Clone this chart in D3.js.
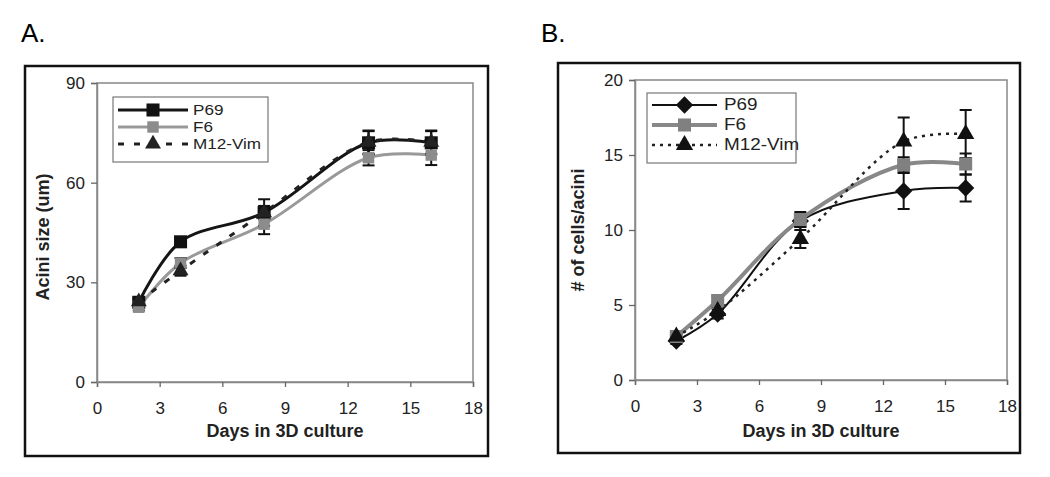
<!DOCTYPE html>
<html><head><meta charset="utf-8">
<script src="https://cdn.jsdelivr.net/npm/d3@7"></script>
<style>body{margin:0;background:#fff;} text{font-family:"Liberation Sans",Arial,sans-serif;}</style>
</head><body>
<svg id="c" width="1050" height="477"></svg>
<script>
const days = [2, 4, 8, 13, 16];
const xTicks = [0, 3, 6, 9, 12, 15, 18];
const seriesNames = ["P69", "F6", "M12-Vim"];

// Panel A: Acini size (um)
const aP69 = [24, 42.2, 51, 72, 72];
const aF6 = [22.5, 35.8, 47.5, 67.5, 68.3];
const aM12 = [24.2, 33.5, 51, 72.2, 72.2];
const aP69Err = [1, 1, 4, 3.5, 3.5];
const aF6Err = [1, 1.5, 3, 2.3, 3];
const aM12Err = [1, 1.5, 2, 3.5, 3.5];
const aYTicks = [0, 30, 60, 90];

// Panel B: # of cells/acini
const bP69 = [2.6, 4.4, 10.6, 12.6, 12.8];
const bF6 = [2.9, 5.3, 10.7, 14.35, 14.4];
const bM12 = [2.9, 4.6, 9.4, 15.9, 16.4];
const bP69Err = [0.2, 0.3, 0.4, 1.2, 0.9];
const bF6Err = [0.2, 0.3, 0.5, 0.5, 0.7];
const bM12Err = [0.2, 0.3, 0.6, 1.6, 1.6];
const bYTicks = [0, 5, 10, 15, 20];

const svg = d3.select("#c");

// square-ish diamond symbol
const diamondSq = {
  draw(ctx, size) {
    const r = Math.sqrt(size / 2);
    ctx.moveTo(0, -r); ctx.lineTo(r, 0); ctx.lineTo(0, r); ctx.lineTo(-r, 0); ctx.closePath();
  }
};

function drawPanel(cfg) {
  const g = svg.append("g");
  g.append("text").attr("x", cfg.titleX).attr("y", 42).attr("font-size", 26).text(cfg.title);
  g.append("rect").attr("x", cfg.frame[0]).attr("y", cfg.frame[1])
    .attr("width", cfg.frame[2] - cfg.frame[0]).attr("height", cfg.frame[3] - cfg.frame[1])
    .attr("fill", "none").attr("stroke", "#111").attr("stroke-width", 2.5);
  const x = d3.scaleLinear().domain([0, 18]).range([cfg.plot[0], cfg.plot[2]]);
  const y = d3.scaleLinear().domain([0, cfg.yMax]).range([cfg.plot[3], cfg.plot[1]]);
  g.append("rect").attr("x", cfg.plot[0]).attr("y", cfg.plot[1])
    .attr("width", cfg.plot[2] - cfg.plot[0]).attr("height", cfg.plot[3] - cfg.plot[1])
    .attr("fill", "none").attr("stroke", "#888").attr("stroke-width", 1.5);
  const xa = g.append("g").attr("transform", `translate(0,${cfg.plot[3]})`)
    .call(d3.axisBottom(x).tickValues(xTicks).tickSize(5).tickPadding(15));
  const ya = g.append("g").attr("transform", `translate(${cfg.plot[0]},0)`)
    .call(d3.axisLeft(y).tickValues(cfg.yTicks).tickSize(6).tickPadding(6));
  [xa, ya].forEach(a => {
    a.select(".domain").attr("stroke", "#888").attr("stroke-width", 1.5);
    a.selectAll(".tick line").attr("stroke", "#666").attr("stroke-width", 1.3);
    a.selectAll(".tick text").attr("font-size", 17).attr("fill", "#222")
      .attr("font-family", "Liberation Sans, Arial, sans-serif");
  });
  g.append("text").attr("x", (cfg.plot[0] + cfg.plot[2]) / 2).attr("y", 437)
    .attr("text-anchor", "middle").attr("font-size", 18).attr("font-weight", "bold").attr("fill", "#222")
    .text("Days in 3D culture");
  g.append("text").attr("transform", `translate(${cfg.yLabelX},${cfg.yLabelY}) rotate(-90)`)
    .attr("text-anchor", "middle").attr("font-size", 18).attr("font-weight", "bold").attr("fill", "#222")
    .text(cfg.yLabel);

  const line = d3.line().x((d, i) => x(days[i])).y(d => y(d)).curve(d3.curveCatmullRom.alpha(0.5));

  cfg.series.forEach(s => {
    g.append("path").datum(s.vals).attr("d", line).attr("fill", "none")
      .attr("stroke", s.color).attr("stroke-width", s.width).attr("stroke-dasharray", s.dash || null);
  });
  cfg.series.forEach(s => {
    s.vals.forEach((v, i) => {
      const e = s.err[i];
      if (e < 0.6 && cfg.yMax > 50) return;
      const cx = x(days[i]);
      g.append("line").attr("x1", cx).attr("x2", cx).attr("y1", y(v - e)).attr("y2", y(v + e))
        .attr("stroke", "#111").attr("stroke-width", 2);
      [v - e, v + e].forEach(t => g.append("line").attr("x1", cx - 6).attr("x2", cx + 6)
        .attr("y1", y(t)).attr("y2", y(t)).attr("stroke", "#111").attr("stroke-width", 2));
    });
  });
  cfg.series.forEach(s => {
    g.selectAll(null).data(s.vals).enter().append("path")
      .attr("transform", (d, i) => `translate(${x(days[i])},${y(d)})`)
      .attr("d", d3.symbol().type(s.symbol).size(s.size)).attr("fill", s.mColor);
  });

  const L = cfg.legend;
  g.append("rect").attr("x", L.x0).attr("y", L.y0).attr("width", L.x1 - L.x0).attr("height", L.y1 - L.y0)
    .attr("fill", "#fff").attr("stroke", "#777").attr("stroke-width", 1.2);
  cfg.series.forEach((s, k) => {
    const ly = L.rows[k];
    g.append("line").attr("x1", L.lx0).attr("x2", L.lx1).attr("y1", ly).attr("y2", ly)
      .attr("stroke", s.color).attr("stroke-width", s.width).attr("stroke-dasharray", s.dash || null);
    g.append("path").attr("transform", `translate(${(L.lx0 + L.lx1) / 2},${ly})`)
      .attr("d", d3.symbol().type(s.symbol).size(s.size)).attr("fill", s.mColor);
    g.append("text").attr("transform", `translate(${L.tx},${ly + 5}) scale(1.18,1)`)
      .attr("font-size", L.fs).attr("fill", "#222")
      .text(seriesNames[k]);
  });
}

drawPanel({
  title: "A.", titleX: 21, frame: [25, 66, 488, 456], plot: [97, 83, 473, 382],
  yMax: 90, yTicks: aYTicks, yLabel: "Acini size (um)", yLabelX: 49, yLabelY: 237,
  series: [
    {vals: aP69, err: aP69Err, color: "#151515", width: 3, symbol: d3.symbolSquare, size: 170, mColor: "#111"},
    {vals: aF6, err: aF6Err, color: "#999", width: 3, symbol: d3.symbolSquare, size: 130, mColor: "#8c8c8c"},
    {vals: aM12, err: aM12Err, color: "#222", width: 3, dash: "6,10", symbol: d3.symbolTriangle, size: 110, mColor: "#222"}
  ],
  legend: {x0: 113, y0: 97, x1: 268, y1: 162, rows: [110, 127, 144], lx0: 118, lx1: 188, tx: 193, fs: 14.5}
});

drawPanel({
  title: "B.", titleX: 541, frame: [558, 63, 1020, 453], plot: [635, 80, 1007, 380],
  yMax: 20, yTicks: bYTicks, yLabel: "# of cells/acini", yLabelX: 584, yLabelY: 230,
  series: [
    {vals: bP69, err: bP69Err, color: "#111", width: 2, symbol: diamondSq, size: 150, mColor: "#111"},
    {vals: bF6, err: bF6Err, color: "#888", width: 4, symbol: d3.symbolSquare, size: 170, mColor: "#808080"},
    {vals: bM12, err: bM12Err, color: "#222", width: 2.5, dash: "3,5", symbol: d3.symbolTriangle, size: 130, mColor: "#111"}
  ],
  legend: {x0: 647, y0: 93, x1: 796, y1: 163, rows: [105, 125, 145], lx0: 652, lx1: 717, tx: 724, fs: 16}
});
</script>
</body></html>
